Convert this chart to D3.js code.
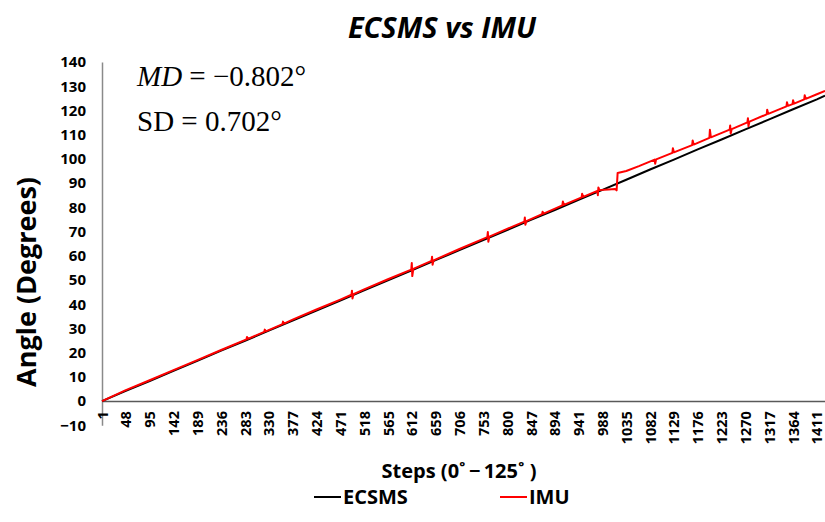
<!DOCTYPE html>
<html><head><meta charset="utf-8">
<script src="https://cdn.jsdelivr.net/npm/d3@7"></script>
<style>body{margin:0;background:#fff} svg{display:block}</style>
</head><body><svg id="c" width="825" height="522"></svg>
<script>
// ---- data ----
const chartTitle = "ECSMS vs IMU";
const xTitle = "Steps (0˚\u2009\u2212\u2009125˚ )";
const yTitle = "Angle (Degrees)";
const seriesNames = ["ECSMS", "IMU"];

const xTickLabels = [1,48,95,142,189,236,283,330,377,424,471,518,565,612,659,706,753,800,847,894,941,988,1035,1082,1129,1176,1223,1270,1317,1364,1411];
const yTickValues = [-10,0,10,20,30,40,50,60,70,80,90,100,110,120,130,140];

const ecsmsSteps  = [1,48,95,142,189,236,283,330,377,424,471,518,565,612,659,706,753,800,847,894,941,988,1035,1082,1129,1176,1223,1270,1317,1364,1411,1427];
const ecsmsValues = [0,4.2,8.3,12.5,16.6,20.8,24.9,29.1,33.2,37.4,41.5,45.7,49.9,54.0,58.2,62.3,66.5,70.6,74.8,78.9,83.1,87.2,91.4,95.6,99.7,103.9,108.0,112.2,116.3,120.5,124.6,126.1];

const imuSteps = [1,48,95,142,189,236,286,287,289,321,322,324,357,358,360,377,424,471,493,494,495,497,518,565,611,612,613,615,651,652,653,655,706,753,761,762,763,765,800,834,835,836,838,869,870,872,909,910,912,947,948,950,978,979,980,982,1000,1013,1016,1018,1035,1060,1091,1092,1094,1126,1127,1129,1165,1166,1168,1199,1200,1202,1239,1240,1241,1243,1274,1275,1276,1278,1312,1313,1315,1351,1352,1354,1363,1364,1366,1386,1387,1389,1411,1427];
const imuValues = [0,4.5,8.6,12.8,16.9,21.1,25.5,26.5,25.7,28.6,29.5,28.8,31.8,32.8,32.0,33.6,37.8,41.9,43.9,45.6,42.4,44.1,46.1,50.3,54.3,57.0,51.6,54.6,57.9,59.6,56.3,58.1,62.8,67.0,67.7,69.8,65.8,67.9,71.1,74.1,75.8,72.8,74.3,77.2,78.2,77.4,80.8,82.4,81.0,84.1,85.6,84.3,86.8,85.0,88.2,87.1,87.4,87.6,87.0,94.2,95.0,97.0,99.7,98.0,99.8,102.5,104.4,102.7,105.7,107.6,105.9,108.7,112.0,108.9,112.1,113.8,110.5,112.3,115.1,116.8,113.5,115.4,118.4,120.3,118.6,121.7,123.4,121.9,122.6,124.2,122.8,124.6,126.3,124.8,126.7,128.1];

const statLines = [["MD", " = \u22120.802°"], ["SD", " = 0.702°"]];

// ---- drawing ----
const svg = d3.select("#c");
const FONT = "'Open Sans', sans-serif";
const x = d3.scaleLinear().domain([1, 1427]).range([102, 825]);
const y = d3.scaleLinear().domain([-10, 140]).range([425.3, 62]);

// title
svg.append("text").attr("x", 442).attr("y", 38).attr("text-anchor", "middle")
  .style("font-family", FONT).style("font-weight", 700).style("font-style", "italic")
  .style("font-size", "29px").text(chartTitle);

// y axis
const yAxis = d3.axisLeft(y).tickValues(yTickValues).tickSize(0).tickPadding(16);
const gy = svg.append("g").attr("transform", `translate(${x(1)},0)`).call(yAxis);
gy.select(".domain").attr("stroke", "#8a8a8a").attr("stroke-width", 1.5);
gy.selectAll("text").style("font-family", FONT).style("font-weight", 700)
  .style("font-size", "15px").attr("fill", "#000");

// x axis at y=0
const xAxis = d3.axisBottom(x).tickValues(xTickLabels).tickSize(0).tickFormat(d3.format("d"));
const gx = svg.append("g").attr("transform", `translate(0,${y(0)})`).call(xAxis);
gx.select(".domain").attr("stroke", "#595959").attr("stroke-width", 1.5);
gx.selectAll("text").style("font-family", FONT).style("font-weight", 700)
  .style("font-size", "14.5px").attr("fill", "#000")
  .attr("transform", "rotate(-90)").attr("text-anchor", "end")
  .attr("x", -10).attr("y", 0).attr("dy", "0.35em");

// lines
const line = d3.line().x(d => x(d[0])).y(d => y(d[1]));
svg.append("path").datum(d3.zip(ecsmsSteps, ecsmsValues)).attr("d", line)
  .attr("fill", "none").attr("stroke", "#000").attr("stroke-width", 2);
svg.append("path").datum(d3.zip(imuSteps, imuValues)).attr("d", line)
  .attr("fill", "none").attr("stroke", "#ff0000").attr("stroke-width", 2)
  .attr("stroke-linejoin", "round");

// stats annotation
statLines.forEach((s, i) => {
  const t = svg.append("text").attr("x", 137).attr("y", 86 + i * 45)
    .style("font-family", "'Liberation Serif', 'Times New Roman', serif").style("font-size", "29px");
  t.append("tspan").style("font-style", i === 0 ? "italic" : "normal").text(s[0]);
  t.append("tspan").text(s[1]);
});

// axis titles
svg.append("text").attr("x", 459).attr("y", 478).attr("text-anchor", "middle")
  .style("font-family", FONT).style("font-weight", 700).style("font-size", "20px").text(xTitle);
svg.append("text").attr("transform", "translate(36,282) rotate(-90)").attr("text-anchor", "middle")
  .style("font-family", FONT).style("font-weight", 700).style("font-size", "27px")
  .text(yTitle);

// legend
const legend = [{name: seriesNames[0], color: "#000", x0: 314}, {name: seriesNames[1], color: "#ff0000", x0: 500}];
legend.forEach(l => {
  svg.append("line").attr("x1", l.x0).attr("x2", l.x0 + 27).attr("y1", 497).attr("y2", 497)
    .attr("stroke", l.color).attr("stroke-width", 2);
  svg.append("text").attr("x", l.x0 + 29).attr("y", 504)
    .style("font-family", FONT).style("font-weight", 700).style("font-size", "20px").text(l.name);
});
</script></body></html>
